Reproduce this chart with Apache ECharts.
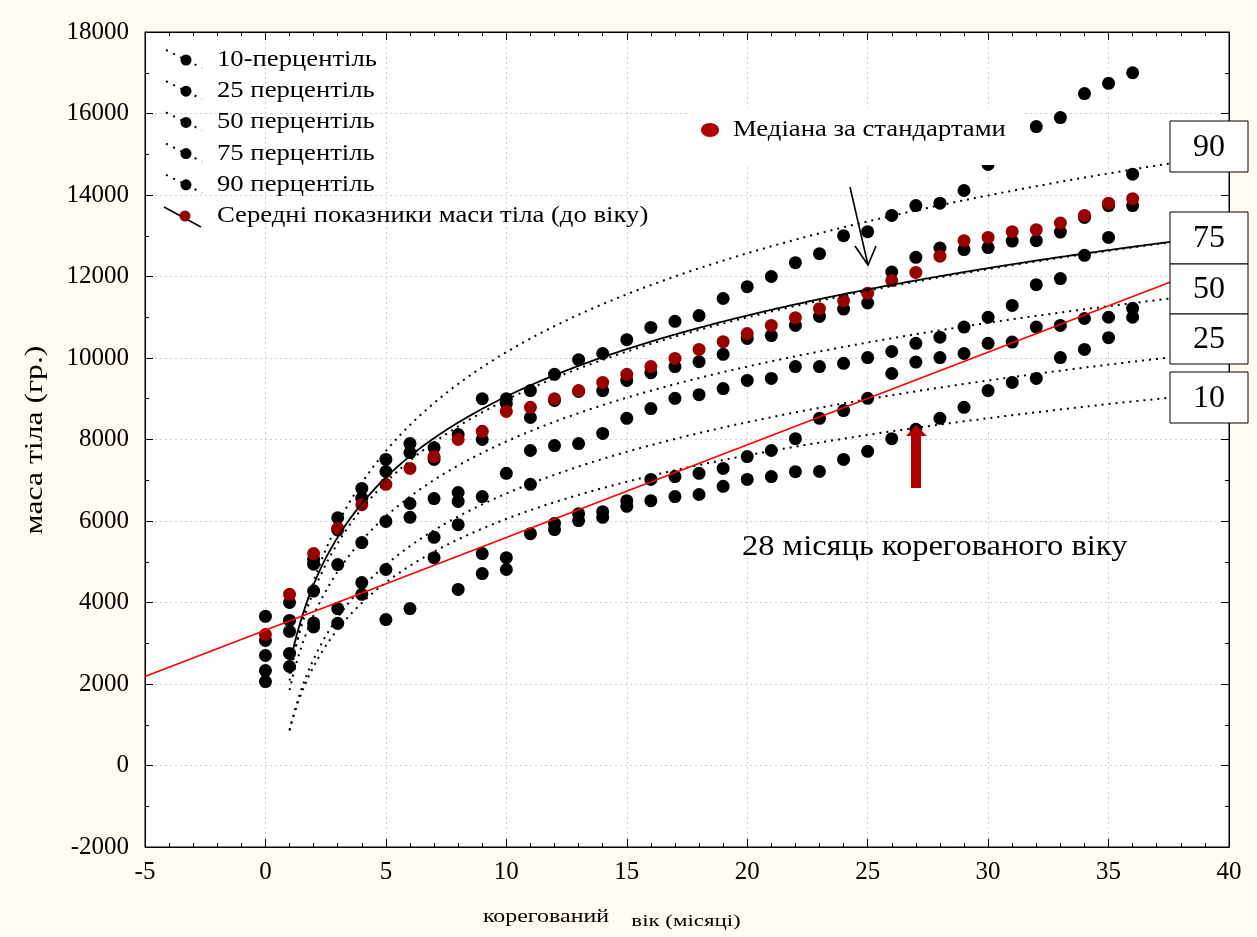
<!DOCTYPE html>
<html>
<head>
<meta charset="utf-8">
<script src="https://cdn.jsdelivr.net/npm/echarts@6/dist/echarts.min.js"></script>
<style>
html,body{margin:0;padding:0;background:#fffbf0;}
#chart{width:1257px;height:937px;}
</style>
</head>
<body>
<div id="chart"></div>
<script>
// ---- data ----
const months = [0,1,2,3,4,5,6,7,8,9,10,11,12,13,14,15,16,17,18,19,20,21,22,23,24,25,26,27,28,29,30,31,32,33,34,35,36];
const p90 = [3660,4000,5060,6080,6800,7510,7900,7800,8120,9000,9000,9200,9600,9960,10110,10450,10750,10900,11040,11460,11750,12000,12340,12560,13000,13100,13500,13740,13800,14110,14750,15200,15680,15900,16490,16740,17000];
const p75 = [3070,3560,4940,5780,6560,7215,7680,7510,6700,8000,8880,8540,8960,9180,9200,9450,9640,9790,9910,10090,10480,10550,10800,11020,11200,11350,12110,12470,12700,12660,12710,12870,12880,13090,13450,13740,14510];
const p50 = [2700,3290,4280,4930,5470,5990,6430,6550,6480,6600,7170,7730,7850,7900,8150,8520,8760,9010,9100,9250,9450,9500,9790,9790,9870,10010,10160,10360,10510,10760,11000,11290,11800,11950,12520,12960,13740];
const p25 = [2330,2750,3500,3850,4490,4810,6090,5600,5910,5200,5100,6900,5940,6180,6230,6500,7020,7090,7170,7290,7580,7730,8020,8520,8710,9010,9620,9900,10010,10110,10360,10390,10760,10800,10970,11000,11220];
const p10 = [2060,2430,3400,3490,4200,3580,3850,5100,4320,4710,4810,5690,5790,6010,6090,6360,6500,6600,6650,6850,7020,7090,7210,7215,7510,7710,8020,8250,8520,8790,9200,9400,9500,10010,10210,10500,11000];
const standardMedian = [3215,4200,5200,5820,6400,6900,7290,7580,8000,8200,8690,8790,9000,9200,9400,9600,9790,9990,10210,10400,10600,10800,10990,11210,11410,11590,11900,12100,12500,12880,12960,13100,13150,13310,13500,13800,13910];

// logarithmic fits y = a + b*ln(x): percentile curves (dotted) and the standard-median curve (solid)
const fitNames = ['10','25','50','75','90'];
const fitA = [870, 860, 1850, 2250, 2085];
const fitB = [2250, 2525, 2650, 2920, 3500];
const medianFit = [2454, 2867];
// linear trend (red line) y = c0 + c1*x
const linearFit = [3320, 227.5];

const xTicks = [-5,0,5,10,15,20,25,30,35,40];
const yTicks = [-2000,0,2000,4000,6000,8000,10000,12000,14000,16000,18000];

const legendLabels = ['10-перцентіль','25 перцентіль','50 перцентіль','75 перцентіль','90 перцентіль','Середні показники маси тіла (до віку)'];

// ---- build ----
const FONT = "'Liberation Serif','Times New Roman',serif";
function pairs(ys){ return months.map((m,i)=>[m, ys[i]]); }
function logCurve(a,b){
  const out=[];
  for(let x=1;x<=40.0001;x+=0.1){ out.push([x, a + b*Math.log(x)]); }
  return out;
}
const chart = echarts.init(document.getElementById('chart'));

const series = [];
[p10,p25,p50,p75,p90].forEach((arr,i)=>{
  series.push({type:'scatter', name:fitNames[i], data:pairs(arr), symbolSize:13,
    itemStyle:{color:'#000', opacity:1}, z:3, silent:true});
});
series.push({type:'scatter', name:'median', data:pairs(standardMedian), symbolSize:13,
  itemStyle:{color:'#990000', opacity:1}, z:4, silent:true});
fitA.forEach((a,i)=>{
  series.push({type:'line', data:logCurve(a,fitB[i]), showSymbol:false, symbol:'none',
    lineStyle:{color:'#000', width:2, type:[2,5]}, z:5, silent:true});
});
series.push({type:'line', data:logCurve(medianFit[0],medianFit[1]), showSymbol:false, symbol:'none',
  lineStyle:{color:'#000', width:1.8}, z:6, silent:true});
series.push({type:'line', data:[[-5, linearFit[0]+linearFit[1]*-5],[40, linearFit[0]+linearFit[1]*40]],
  showSymbol:false, symbol:'none', lineStyle:{color:'#ff0000', width:1.6}, z:6, silent:true});

const tickStyle = {show:true, inside:true, length:8, lineStyle:{color:'#000', width:1}};
const minorStyle = {show:true, splitNumber:5, length:4, lineStyle:{color:'#000', width:1}};
const splitStyle = {show:true, lineStyle:{color:'#cfcfcf', type:[2,3], width:1}};

// legend drawn as graphic elements
const graphics = [];
const legendY0 = 60, legendDY = 31.2;
legendLabels.forEach((t,i)=>{
  const y = legendY0 + i*legendDY;
  if(i<5){
    graphics.push({type:'line', shape:{x1:166,y1:y-10,x2:202,y2:y+8}, style:{stroke:'#000', lineWidth:2, lineDash:[2,6]}, z:50});
    graphics.push({type:'circle', shape:{cx:186, cy:y, r:5.5}, style:{fill:'#000'}, z:51});
  } else {
    graphics.push({type:'line', shape:{x1:164,y1:y-9,x2:201,y2:y+11}, style:{stroke:'#000', lineWidth:1.5}, z:50});
    graphics.push({type:'circle', shape:{cx:185, cy:y, r:5.5}, style:{fill:'#990000'}, z:51});
  }
  graphics.push({type:'text', x:217, y:y, scaleX:1.16, style:{text:t, font:'23px '+FONT, fill:'#000', textVerticalAlign:'middle'}, z:51});
});
// annotation "Медіана за стандартами" with white box
graphics.push({type:'rect', shape:{x:690,y:108,width:332,height:57}, style:{fill:'#fff'}, z:40});
graphics.push({type:'ellipse', shape:{cx:710, cy:130, rx:9, ry:7}, style:{fill:'#b00000'}, z:41});
graphics.push({type:'text', x:733, y:130, scaleX:1.16, style:{text:'Медіана за стандартами', font:'23px '+FONT, fill:'#000', textVerticalAlign:'middle'}, z:41});
// black arrow
graphics.push({type:'polyline', shape:{points:[[850,187],[868,265]]}, style:{stroke:'#000', lineWidth:1.6}, z:41});
graphics.push({type:'polyline', shape:{points:[[855,246],[868,265],[876,246]]}, style:{stroke:'#000', lineWidth:1.6, fill:null}, z:41});
// red arrow
graphics.push({type:'polygon', shape:{points:[[911,488],[911,436],[906,436],[916,425],[927,436],[921,436],[921,488]]}, style:{fill:'#b00000'}, z:41});
// text
graphics.push({type:'text', x:742, y:547, scaleX:1.12, style:{text:'28 місяць корегованого віку', font:'29px '+FONT, fill:'#000', textVerticalAlign:'middle'}, z:41});
// percentile boxes
const boxes = [['90',121,172],['75',212,264],['50',264,314],['25',314,364],['10',372,423]];
boxes.forEach(b=>{
  graphics.push({type:'rect', shape:{x:1170,y:b[1],width:78,height:b[2]-b[1]}, style:{fill:'#fff', stroke:'#000', lineWidth:1}, z:60});
  graphics.push({type:'text', x:1209, y:(b[1]+b[2])/2+1, style:{text:b[0], font:'32px '+FONT, fill:'#000', textAlign:'center', textVerticalAlign:'middle'}, z:61});
});
// axis titles
graphics.push({type:'text', x:546, y:917, scaleX:1.33, style:{text:'корегований', font:'18px '+FONT, fill:'#000', textAlign:'center', textVerticalAlign:'middle'}, z:41});
graphics.push({type:'text', x:686, y:922, scaleX:1.43, style:{text:'вік (місяці)', font:'16px '+FONT, fill:'#000', textAlign:'center', textVerticalAlign:'middle'}, z:41});
graphics.push({type:'text', x:35, y:440, rotation:Math.PI/2, scaleX:1.22, style:{text:'маса тіла (гр.)', font:'26px '+FONT, fill:'#000', textAlign:'center', textVerticalAlign:'middle'}, z:41});

const plainNum = v => String(v);

chart.setOption({
  animation:false,
  backgroundColor:'#fffbf0',
  grid:{left:145, right:28, top:32, bottom:90, show:true, backgroundColor:'#fff', borderColor:'#000', borderWidth:1},
  xAxis:[
    {type:'value', min:xTicks[0], max:xTicks[xTicks.length-1], interval:5, position:'bottom',
     axisLine:{show:true, onZero:false, lineStyle:{color:'#000'}}, axisTick:tickStyle, minorTick:minorStyle,
     splitLine:splitStyle, axisLabel:{color:'#000', fontSize:25, fontFamily:FONT, margin:13, formatter:plainNum}},
    {type:'value', min:xTicks[0], max:xTicks[xTicks.length-1], interval:5, position:'top',
     axisLine:{show:true, onZero:false, lineStyle:{color:'#000'}}, axisTick:tickStyle, minorTick:minorStyle,
     splitLine:{show:false}, axisLabel:{show:false}}
  ],
  yAxis:[
    {type:'value', min:yTicks[0], max:yTicks[yTicks.length-1], interval:2000, position:'left',
     axisLine:{show:true, onZero:false, lineStyle:{color:'#000'}}, axisTick:tickStyle, minorTick:Object.assign({}, minorStyle, {splitNumber:2}),
     splitLine:splitStyle, axisLabel:{color:'#000', fontSize:25, fontFamily:FONT, margin:16, formatter:plainNum}},
    {type:'value', min:yTicks[0], max:yTicks[yTicks.length-1], interval:2000, position:'right',
     axisLine:{show:true, onZero:false, lineStyle:{color:'#000'}}, axisTick:tickStyle, minorTick:Object.assign({}, minorStyle, {splitNumber:2}),
     splitLine:{show:false}, axisLabel:{show:false}}
  ],
  series: series,
  graphic: graphics
});
</script>
</body>
</html>
